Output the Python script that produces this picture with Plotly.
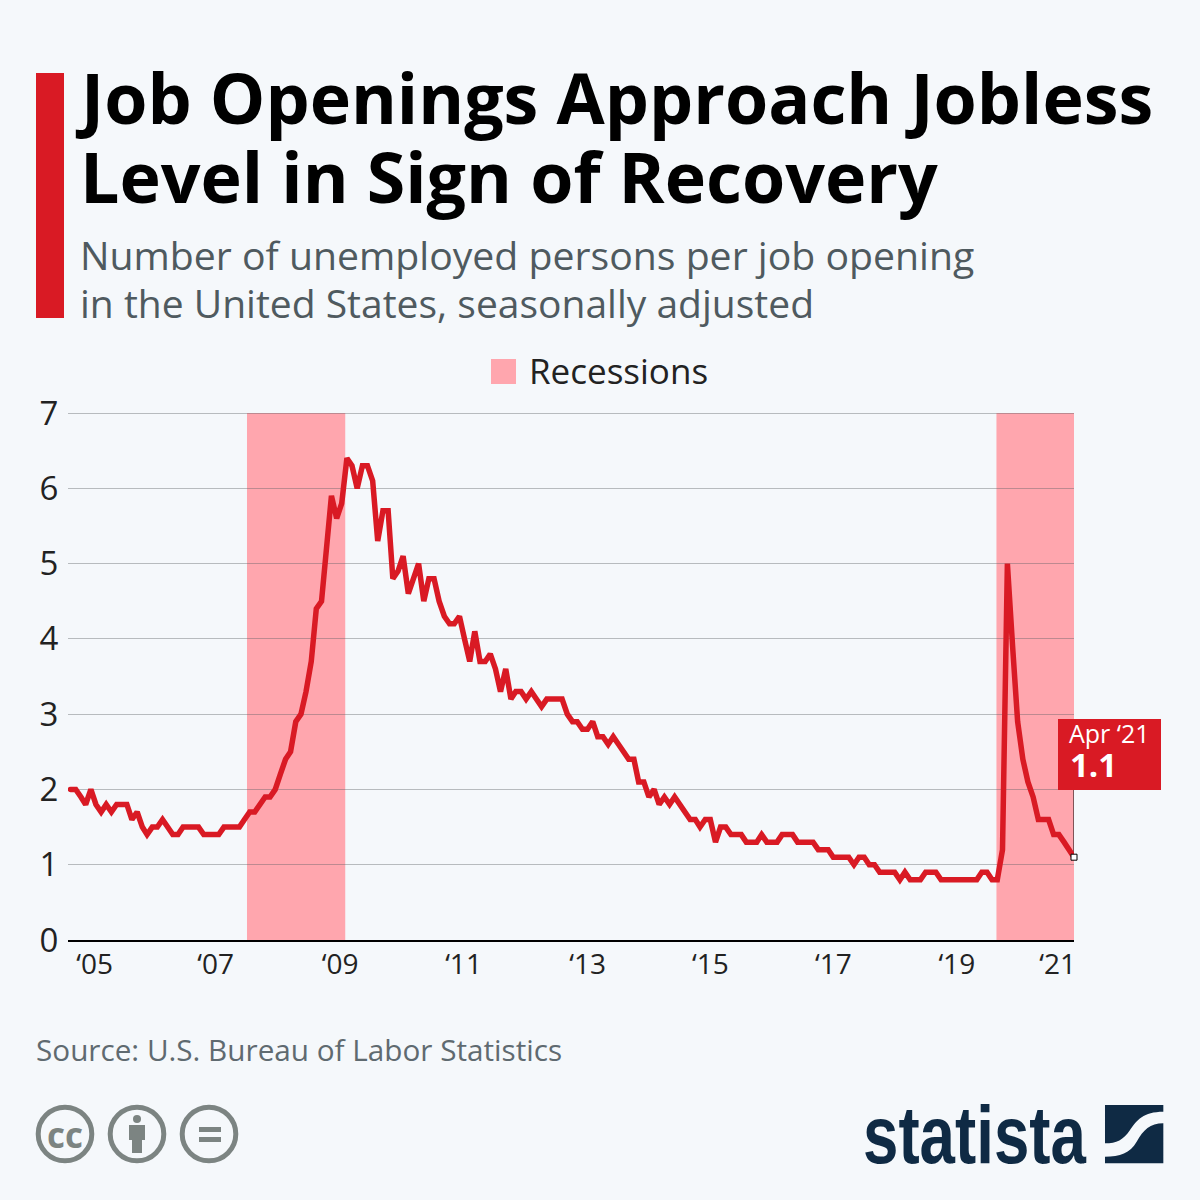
import pandas as pd
import plotly.graph_objects as go

W = H = 1200
START_MONTH = "2004-12-01"
VALUES = [
 2.0,2.0,1.9,1.8,2.0,1.8,1.7,1.8,1.7,1.8,1.8,1.8,1.6,1.7,1.5,1.4,1.5,1.5,1.6,1.5,
 1.4,1.4,1.5,1.5,1.5,1.5,1.4,1.4,1.4,1.4,1.5,1.5,1.5,1.5,1.6,1.7,1.7,1.8,1.9,1.9,
 2.0,2.2,2.4,2.5,2.9,3.0,3.3,3.7,4.4,4.5,5.3,5.9,5.6,5.8,6.4,6.3,6.0,6.3,6.3,6.1,
 5.3,5.7,5.7,4.8,4.9,5.1,4.6,4.8,5.0,4.5,4.8,4.8,4.5,4.3,4.2,4.2,4.3,4.0,3.7,4.1,
 3.7,3.7,3.8,3.6,3.3,3.6,3.2,3.3,3.3,3.2,3.3,3.2,3.1,3.2,3.2,3.2,3.2,3.0,2.9,2.9,
 2.8,2.8,2.9,2.7,2.7,2.6,2.7,2.6,2.5,
 2.4,2.4,2.1,2.1,1.9,2.0,1.8,1.9,1.8,1.9,1.8,1.7,1.6,1.6,1.5,1.6,1.6,1.3,1.5,1.5,
 1.4,1.4,1.4,1.3,1.3,1.3,1.4,1.3,1.3,1.3,1.4,1.4,1.4,1.3,1.3,1.3,1.3,1.2,1.2,1.2,
 1.1,1.1,1.1,1.1,1.0,1.1,
 1.1,1.0,1.0,0.9,0.9,0.9,0.9,0.8,0.9,0.8,0.8,0.8,0.9,0.9,0.9,0.8,
 0.8,0.8,0.8,0.8,0.8,0.8,0.8,0.9,0.9,0.8,0.8,1.2,5.0,
 3.9,2.9,2.4,2.1,1.9,1.6,1.6,1.6,1.4,1.4,1.3,1.2,1.1,
]
assert len(VALUES) == 197
MONTHS = pd.date_range(START_MONTH, periods=len(VALUES), freq="MS")

X_RANGE = ["2004-11-16", "2021-04-01"]
RECESSIONS = [("2007-10-16", "2009-05-22"), ("2019-12-27", "2021-04-01")]
TICK_DATES = ["2005-04-23", "2007-04-13", "2009-04-22", "2011-04-25", "2013-05-02",
              "2015-05-01", "2017-05-01", "2019-05-05", "2020-12-25"]
TICK_LABELS = ["‘05", "‘07", "‘09", "‘11", "‘13", "‘15", "‘17", "‘19", "‘21"]
Y_TICKS = [0, 1, 2, 3, 4, 5, 6, 7]
Y_TOP = 7 + 2 / 75.29
CALLOUT_TOP = 2.0

TITLE_LINES = ["Job Openings Approach Jobless", "Level in Sign of Recovery"]
SUBTITLE_LINES = ["Number of unemployed persons per job opening",
                  "in the United States, seasonally adjusted"]
SOURCE = "Source: U.S. Bureau of Labor Statistics"

BG = "#f5f8fb"; RED = "#d91a24"; PINK = "#ffa6ae"; NAVY = "#0f2a44"; GREY = "#7c8482"
FONT = "Open Sans"

px = lambda x: x / W
py = lambda y: 1 - y / H

def txt(x, y, text, size, color, bold=False, anchor="left", font=FONT):
    return dict(xref="paper", yref="paper", x=px(x), y=py(y), xanchor=anchor, yanchor="middle",
                text=f"<b>{text}</b>" if bold else text, showarrow=False,
                font=dict(family=font, size=size, color=color), borderpad=0)

def rect(x0, y0, x1, y1, color, layer="above"):
    return dict(type="rect", xref="paper", yref="paper", x0=px(x0), x1=px(x1), y0=py(y0), y1=py(y1),
                fillcolor=color, line=dict(width=0), layer=layer)

def circle(cx, cy, r, fill, line_w=0, line_c=GREY):
    return dict(type="circle", xref="paper", yref="paper", x0=px(cx-r), x1=px(cx+r), y0=py(cy-r), y1=py(cy+r),
                fillcolor=fill, line=dict(width=line_w, color=line_c), layer="above")

def zpath(points_cmds):
    out = []
    for c in points_cmds:
        if isinstance(c, str):
            out.append(c)
        else:
            out.append(f"{px(850 + c[0]/3):.5f},{py(1090 + c[1]/3):.5f}")
    return " ".join(out)

fig = go.Figure()
fig.add_trace(go.Scatter(x=[MONTHS[-1], MONTHS[-1]], y=[VALUES[-1], CALLOUT_TOP], mode="lines",
                         line=dict(color="#000", width=1), showlegend=False, hoverinfo="skip"))
fig.add_trace(go.Scatter(x=MONTHS, y=VALUES, mode="lines", name="Unemployed per job opening",
                         line=dict(color=RED, width=5.5, shape="linear"), showlegend=False,
                         cliponaxis=False))
fig.add_trace(go.Scatter(x=[MONTHS[-1]], y=[VALUES[-1]], mode="markers", showlegend=False,
                         marker=dict(symbol="square", size=6, color="#fff", line=dict(color="#000", width=1)),
                         cliponaxis=False))

shapes = []
for a, b in RECESSIONS:
    shapes.append(dict(type="rect", xref="x", yref="paper", x0=a, x1=b, y0=py(940), y1=py(413),
                       fillcolor=PINK, line=dict(width=0), layer="below"))
shapes += [
    rect(36, 73, 64, 318, RED),
    rect(491, 359, 516, 384, PINK),
    rect(1058, 719, 1161, 790, RED),
    circle(65, 1134, 26.8, "rgba(0,0,0,0)", 5),
    circle(137, 1134, 26.8, "rgba(0,0,0,0)", 5),
    circle(209, 1134, 26.8, "rgba(0,0,0,0)", 5),
    circle(137, 1119, 4, GREY),
    rect(129, 1125, 145, 1140, GREY),
    rect(132, 1125, 142, 1153, GREY),
    rect(199, 1127, 221, 1132, GREY),
    rect(199, 1137, 221, 1142, GREY),
    dict(type="path", xref="paper", yref="paper", layer="above", fillcolor=NAVY, line=dict(width=0),
         path=zpath(["M", (765,45), "L", (940,45), "L", (940,65), "C", (880,65), (860,90), (840,120),
                     "C", (820,150), (800,160), (765,160), "Z"])),
    dict(type="path", xref="paper", yref="paper", layer="above", fillcolor=NAVY, line=dict(width=0),
         path=zpath(["M", (940,100), "C", (900,100), (880,120), (860,155), "C", (840,190), (810,200), (765,200),
                     "L", (765,220), "L", (940,220), "Z"])),
]

annotations = [
    txt(74, 97, TITLE_LINES[0], 69.9, "#000", True),
    txt(78.5, 175, TITLE_LINES[1], 69.9, "#000", True),
    txt(79, 254.5, SUBTITLE_LINES[0], 39.2, "#4f5a5f"),
    txt(79, 302.5, SUBTITLE_LINES[1], 39.0, "#4f5a5f"),
    txt(528, 370, "Recessions", 35, "#222"),
    txt(1068, 733, "Apr ‘21", 25, "#fff"),
    txt(1069, 764, "1.1", 33, "#fff", True),
    txt(35, 1049, SOURCE, 29.7, "#5f6a70"),
    txt(65, 1134, "cc", 35, GREY, True, "center"),
    txt(862, 1134, "statista", 82, NAVY, True, "left", "Liberation Sans"),
]

fig.update_layout(
    width=W, height=H, margin=dict(l=0, r=0, t=0, b=0, autoexpand=False),
    paper_bgcolor=BG, plot_bgcolor="rgba(0,0,0,0)", showlegend=False,
    font=dict(family=FONT, color="#222"),
    shapes=shapes, annotations=annotations,
    xaxis=dict(type="date", range=X_RANGE, domain=[px(68), px(1074)], tickmode="array",
               tickvals=TICK_DATES, ticktext=TICK_LABELS, showgrid=False, zeroline=False,
               showline=True, linecolor="#000", linewidth=2, ticks="", ticklabelstandoff=-2,
               tickfont=dict(family=FONT, size=28, color="#222")),
    yaxis=dict(range=[0, Y_TOP], domain=[py(940), py(411)], tickmode="array", tickvals=Y_TICKS,
               showgrid=True, gridcolor="rgba(90,95,100,0.4)", gridwidth=1, zeroline=False,
               showline=False, ticks="outside", ticklen=2, tickcolor="rgba(0,0,0,0)",
               tickfont=dict(family=FONT, size=33, color="#222")),
)

POST = """
document.body.style.margin='0';
document.querySelectorAll('.js-line').forEach(function(p){p.style.strokeLinecap='round';});
document.querySelectorAll('.annotation-text').forEach(function(t){
  if(t.textContent==='statista'){
    var b=t.getBBox();
    var sx=224/b.width, x0=b.x;
    t.setAttribute('transform','translate('+x0+',0) scale('+sx+',1) translate('+(-x0)+',0)');
  }
});
"""
fig.write_html("out.html", post_script=POST, config={"displayModeBar": False})
